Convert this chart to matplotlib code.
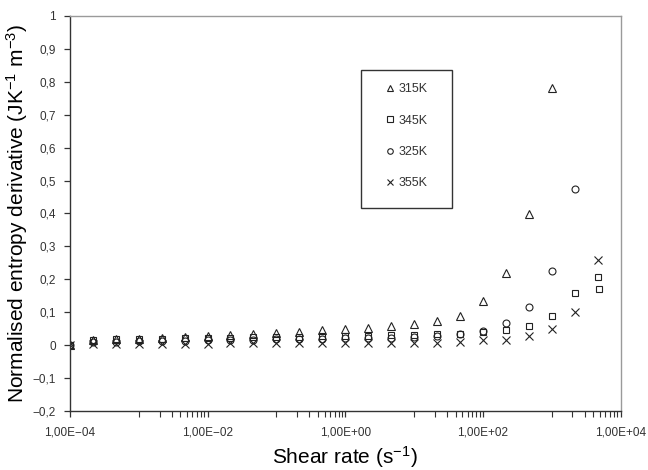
import math
import matplotlib
matplotlib.use("Agg")
import matplotlib.pyplot as plt
from matplotlib.patches import Rectangle
from matplotlib.ticker import FixedLocator, FuncFormatter, NullFormatter

plt.rcParams['font.family'] = ['Liberation Sans', 'DejaVu Sans']
plt.rcParams['mathtext.fontset'] = 'custom'
plt.rcParams['mathtext.rm'] = 'Liberation Sans'
plt.rcParams['mathtext.it'] = 'Liberation Sans:italic'

# Shear rates (s^-1), one-third-decade steps
shear = [1.0e-4, 2.15e-4, 4.64e-4, 1.0e-3, 2.15e-3, 4.64e-3, 1.0e-2, 2.15e-2,
         4.64e-2, 1.0e-1, 2.15e-1, 4.64e-1, 1.0, 2.15, 4.64, 10.0, 21.5, 46.4,
         100.0, 215.0, 464.0, 1000.0, 2150.0, 4640.0]

t315 = [0.0, 0.015, 0.018, 0.020, 0.022, 0.024, 0.027, 0.030, 0.034, 0.038,
        0.041, 0.045, 0.048, 0.052, 0.057, 0.063, 0.072, 0.090, 0.135, 0.218,
        0.398, 0.782]
t345 = [0.0, 0.017, 0.018, 0.019, 0.020, 0.021, 0.022, 0.023, 0.024, 0.025,
        0.026, 0.027, 0.027, 0.028, 0.030, 0.032, 0.034, 0.035, 0.040, 0.045,
        0.059, 0.090, 0.160, 0.208, 0.170]
shear345 = shear + [4900.0]
t325 = [0.0, 0.010, 0.011, 0.012, 0.013, 0.014, 0.015, 0.016, 0.017, 0.018,
        0.019, 0.020, 0.021, 0.022, 0.023, 0.025, 0.028, 0.035, 0.042, 0.066,
        0.117, 0.225, 0.475]
t355 = [0.0, 0.003, 0.004, 0.004, 0.005, 0.005, 0.005, 0.006, 0.006, 0.006,
        0.006, 0.006, 0.006, 0.006, 0.007, 0.007, 0.007, 0.011, 0.015, 0.017,
        0.029, 0.049, 0.101, 0.258]

xticks = [1e-4, 1e-2, 1e0, 1e2, 1e4]
yticks = [-0.2, -0.1, 0, 0.1, 0.2, 0.3, 0.4, 0.5, 0.6, 0.7, 0.8, 0.9, 1.0]

fig = plt.figure(figsize=(6.48, 4.70), dpi=100)
ax = fig.add_axes([0.108, 0.1255, 0.8496, 0.8405])

mk = dict(linestyle='none', markerfacecolor='none', markeredgecolor='#222222',
          markeredgewidth=0.8)
ax.plot(shear[:len(t315)], t315, marker='^', markersize=5.5, label='315K', **mk)
ax.plot(shear345[:len(t345)], t345, marker='s', markersize=5, label='345K', **mk)
ax.plot(shear[:len(t325)], t325, marker='o', markersize=5, label='325K', **mk)
ax.plot(shear[:len(t355)], t355, marker='x', markersize=6, label='355K', **mk)

ax.set_xscale('log')
ax.set_xlim(1e-4, 1e4)
ax.set_ylim(-0.2, 1.0)

ax.xaxis.set_major_locator(FixedLocator(xticks))
minors = []
for d in [-4, -2, 0, 2]:
    for m in range(1, 10):
        minors.append(m * 10.0 ** (d + 1))
ax.xaxis.set_minor_locator(FixedLocator(minors))
ax.xaxis.set_minor_formatter(NullFormatter())

def xfmt(v, pos):
    e = int(round(math.log10(v)))
    sign = '+' if e >= 0 else '\u2212'
    return '1,00E%s%02d' % (sign, abs(e))
ax.xaxis.set_major_formatter(FuncFormatter(xfmt))

ax.yaxis.set_major_locator(FixedLocator(yticks))
def yfmt(v, pos):
    if abs(v) < 1e-9:
        return '0'
    if abs(v - 1) < 1e-9:
        return '1'
    s = ('%.1f' % v).replace('.', ',')
    return s.replace('-', '\u2212')
ax.yaxis.set_major_formatter(FuncFormatter(yfmt))

for s in ['top', 'right']:
    ax.spines[s].set_color('#9a9a9a')
    ax.spines[s].set_linewidth(1.0)
for s in ['left', 'bottom']:
    ax.spines[s].set_color('#333333')
    ax.spines[s].set_linewidth(1.0)

ax.tick_params(axis='both', which='major', direction='out', length=4, width=0.9,
               color='#333333', labelsize=8.5, labelcolor='#333333')
ax.tick_params(axis='x', which='minor', direction='out', length=4, width=0.8,
               color='#333333')
ax.tick_params(axis='x', which='major', pad=7)
ax.tick_params(axis='y', which='major', pad=6)

ax.set_xlabel('Shear rate (s$^{\\mathregular{-1}}$)', fontsize=15, labelpad=4)
ax.set_ylabel('Normalised entropy derivative (JK$^{\\mathregular{-1}}$ m$^{\\mathregular{-3}}$)',
              fontsize=15, labelpad=2)

# legend box (drawn separately) and entries
ax.add_patch(Rectangle((0.5286, 0.514), 0.1653, 0.349, transform=ax.transAxes,
                       facecolor='white', edgecolor='#333333', linewidth=1.0,
                       zorder=4))
leg = ax.legend(loc='upper left', bbox_to_anchor=(0.570, 0.830),
                frameon=False, fontsize=9, handletextpad=0.2,
                labelspacing=1.55, borderpad=0.0, borderaxespad=0.0,
                handlelength=1.0, markerscale=0.8)
leg.set_zorder(5)
for t in leg.get_texts():
    t.set_color('#333333')

fig.savefig('out.png', dpi=100)
